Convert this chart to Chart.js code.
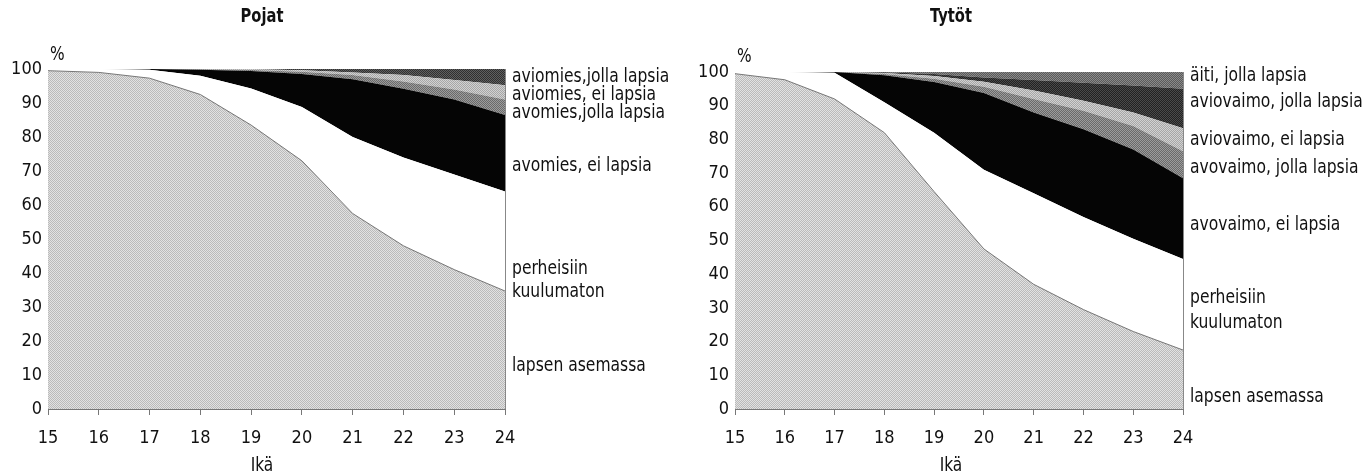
<!DOCTYPE html>
<html>
<head>
<meta charset="utf-8">
<script src="https://cdn.jsdelivr.net/npm/chart.js@4.4.1/dist/chart.umd.min.js"></script>
<style>
  html, body { margin: 0; padding: 0; background: #fff; }
  #wrap { position: relative; width: 1365px; height: 476px; }
  .box { position: absolute; top: 0; height: 476px; }
  #boxPojat { left: 0; width: 685px; }
  #boxTytot { left: 685px; width: 680px; }
</style>
</head>
<body>
<div id="wrap">
  <div class="box" id="boxPojat"><canvas id="chartPojat" width="685" height="476"></canvas></div>
  <div class="box" id="boxTytot"><canvas id="chartTytot" width="680" height="476"></canvas></div>
</div>
<script>
// ikävuodet
const ages = ['15', '16', '17', '18', '19', '20', '21', '22', '23', '24'];
const yTicks = [0, 10, 20, 30, 40, 50, 60, 70, 80, 90, 100];

// Pojat, osuudet (%) alhaalta ylös
const pojatNames = ['lapsen asemassa', 'perheisiin kuulumaton', 'avomies, ei lapsia',
  'avomies,jolla lapsia', 'aviomies, ei lapsia', 'aviomies,jolla lapsia'];
const pojatLapsen    = [99.5, 99, 97.3, 92.5, 83.5, 73, 57.5, 48, 41, 34.7];
const pojatPerhe     = [0.5, 1, 2.5, 5.5, 10.8, 15.8, 22.5, 26, 28, 29.3];
const pojatAvoEi     = [0, 0, 0.2, 1.8, 5.1, 9.7, 17, 20.2, 22, 22.5];
const pojatAvoJolla  = [0, 0, 0, 0.1, 0.3, 0.7, 1.2, 2.1, 3, 4.5];
const pojatAvioEi    = [0, 0, 0, 0.1, 0.2, 0.4, 0.8, 1.9, 2.8, 4.2];
const pojatAvioJolla = [0, 0, 0, 0, 0.1, 0.4, 1, 1.8, 3.2, 4.8];

// Tytöt, osuudet (%) alhaalta ylös
const tytotNames = ['lapsen asemassa', 'perheisiin kuulumaton', 'avovaimo, ei lapsia',
  'avovaimo, jolla lapsia', 'aviovaimo, ei lapsia', 'aviovaimo, jolla lapsia', 'äiti, jolla lapsia'];
const tytotLapsen    = [99.5, 97.7, 92, 82, 64.5, 47.5, 37, 29.5, 23, 17.5];
const tytotPerhe     = [0.5, 2.3, 7.8, 9, 17.5, 23.5, 27, 27.5, 27.5, 27];
const tytotAvoEi     = [0, 0, 0.2, 8, 15, 22.8, 24, 26, 26.5, 24];
const tytotAvoJolla  = [0, 0, 0, 0.4, 1, 1.8, 4, 5.5, 7, 8];
const tytotAvioEi    = [0, 0, 0, 0.3, 0.8, 1.5, 2.5, 3, 4, 6.8];
const tytotAvioJolla = [0, 0, 0, 0.2, 0.6, 1.3, 3.1, 5.3, 8, 11.7];
const tytotAiti      = [0, 0, 0, 0.1, 0.6, 1.6, 2.4, 3.2, 4, 5];

const FONT = "'Liberation Sans Narrow', 'Arial Narrow', 'DejaVu Sans Condensed', sans-serif";

// rasterikuvio (pieni shakkiruutu)
function dots(c1, c2) {
  const cv = document.createElement('canvas');
  cv.width = 2; cv.height = 2;
  const g = cv.getContext('2d');
  g.fillStyle = c1; g.fillRect(0, 0, 2, 2);
  g.fillStyle = c2; g.fillRect(0, 0, 1, 1); g.fillRect(1, 1, 1, 1);
  return g.createPattern(cv, 'repeat');
}

// kapeutettu teksti
function narrowText(ctx, t, x, y, sx) {
  ctx.save();
  ctx.translate(x, y);
  ctx.scale(sx, 1);
  ctx.fillText(t, 0, 0);
  ctx.restore();
}

function sidePlugin(s) {
  return {
    id: 'side',
    afterDraw(chart) {
      const ctx = chart.ctx;
      const a = chart.chartArea;
      const y = chart.scales.y;
      ctx.save();
      // oikea reunaviiva
      ctx.strokeStyle = '#888';
      ctx.lineWidth = 1;
      ctx.beginPath();
      ctx.moveTo(a.right + 0.5, a.top);
      ctx.lineTo(a.right + 0.5, a.bottom);
      ctx.stroke();

      ctx.fillStyle = '#111';
      ctx.textBaseline = 'middle';
      ctx.textAlign = 'left';
      ctx.font = '19px ' + FONT;
      s.labels.forEach(l => {
        const lines = l.text;
        const py = y.getPixelForValue(l.v);
        lines.forEach((t, i) => {
          narrowText(ctx, t, a.right + 7, py + (i - (lines.length - 1) / 2) * s.lineGap, 0.91);
        });
      });
      narrowText(ctx, '%', s.pctX, s.pctY, 0.9);

      ctx.textAlign = 'center';
      narrowText(ctx, 'Ikä', s.titleX, 466, 0.9);
      ctx.font = 'bold 19px ' + FONT;
      narrowText(ctx, s.title, s.titleX, 17, 0.86);
      ctx.restore();
    }
  };
}

function makeChart(id, series, fills, s) {
  const datasets = series.map((d, i) => ({
    label: s.names[i],
    data: d,
    fill: i === 0 ? 'origin' : '-1',
    backgroundColor: fills[i],
    borderColor: i === 0 ? '#777' : 'rgba(0,0,0,0)',
    borderWidth: i === 0 ? 1 : 0,
    pointRadius: 0,
    tension: 0
  }));
  return new Chart(document.getElementById(id), {
    type: 'line',
    data: { labels: ages, datasets: datasets },
    options: {
      responsive: false,
      animation: false,
      layout: { padding: { left: 0, right: s.padRight, top: s.padTop, bottom: 0 } },
      plugins: { legend: { display: false }, tooltip: { enabled: false } },
      scales: {
        x: {
          grid: { display: true, drawOnChartArea: false, drawTicks: true, tickLength: 6, color: '#777' },
          border: { display: true, color: '#777' },
          ticks: { color: '#111', font: { family: FONT, size: 18 }, padding: 13, maxRotation: 0 },
          afterFit(sc) { sc.height = 67; }
        },
        y: {
          stacked: true,
          min: 0, max: 100,
          afterBuildTicks(sc) { sc.ticks = yTicks.map(v => ({ value: v })); },
          grid: { display: false, drawTicks: false },
          border: { display: true, color: '#777' },
          ticks: { color: '#111', font: { family: FONT, size: 18 }, padding: 6 },
          afterFit(sc) { sc.width = s.yWidth; }
        }
      }
    },
    plugins: [sidePlugin(s)]
  });
}

const grayLight = dots('#e2e2e2', '#bababa');

makeChart('chartPojat',
  [pojatLapsen, pojatPerhe, pojatAvoEi, pojatAvoJolla, pojatAvioEi, pojatAvioJolla],
  [grayLight, '#ffffff', '#050505', dots('#9c9c9c', '#6a6a6a'), dots('#d2d2d2', '#a6a6a6'), dots('#606060', '#303030')],
  {
    names: pojatNames, title: 'Pojat', titleX: 262, pctX: 50, pctY: 55,
    padRight: 180, padTop: 69, yWidth: 48, lineGap: 23,
    labels: [
      { text: ['aviomies,jolla lapsia'], v: 97.6 },
      { text: ['aviomies, ei lapsia'], v: 92.2 },
      { text: ['avomies,jolla lapsia'], v: 86.9 },
      { text: ['avomies, ei lapsia'], v: 71.5 },
      { text: ['perheisiin', 'kuulumaton'], v: 37.8 },
      { text: ['lapsen asemassa'], v: 12.6 }
    ]
  });

makeChart('chartTytot',
  [tytotLapsen, tytotPerhe, tytotAvoEi, tytotAvoJolla, tytotAvioEi, tytotAvioJolla, tytotAiti],
  [grayLight, '#ffffff', '#050505', dots('#9c9c9c', '#6a6a6a'), dots('#d2d2d2', '#a6a6a6'), dots('#4a4a4a', '#222222'), dots('#8a8a8a', '#5a5a5a')],
  {
    names: tytotNames, title: 'Tytöt', titleX: 266, pctX: 52, pctY: 57,
    padRight: 182, padTop: 72, yWidth: 50, lineGap: 25,
    labels: [
      { text: ['äiti, jolla lapsia'], v: 98.8 },
      { text: ['aviovaimo, jolla lapsia'], v: 91.1 },
      { text: ['aviovaimo, ei lapsia'], v: 79.8 },
      { text: ['avovaimo, jolla lapsia'], v: 71.5 },
      { text: ['avovaimo, ei lapsia'], v: 54.6 },
      { text: ['perheisiin', 'kuulumaton'], v: 29.2 },
      { text: ['lapsen asemassa'], v: 3.6 }
    ]
  });
</script>
</body>
</html>
